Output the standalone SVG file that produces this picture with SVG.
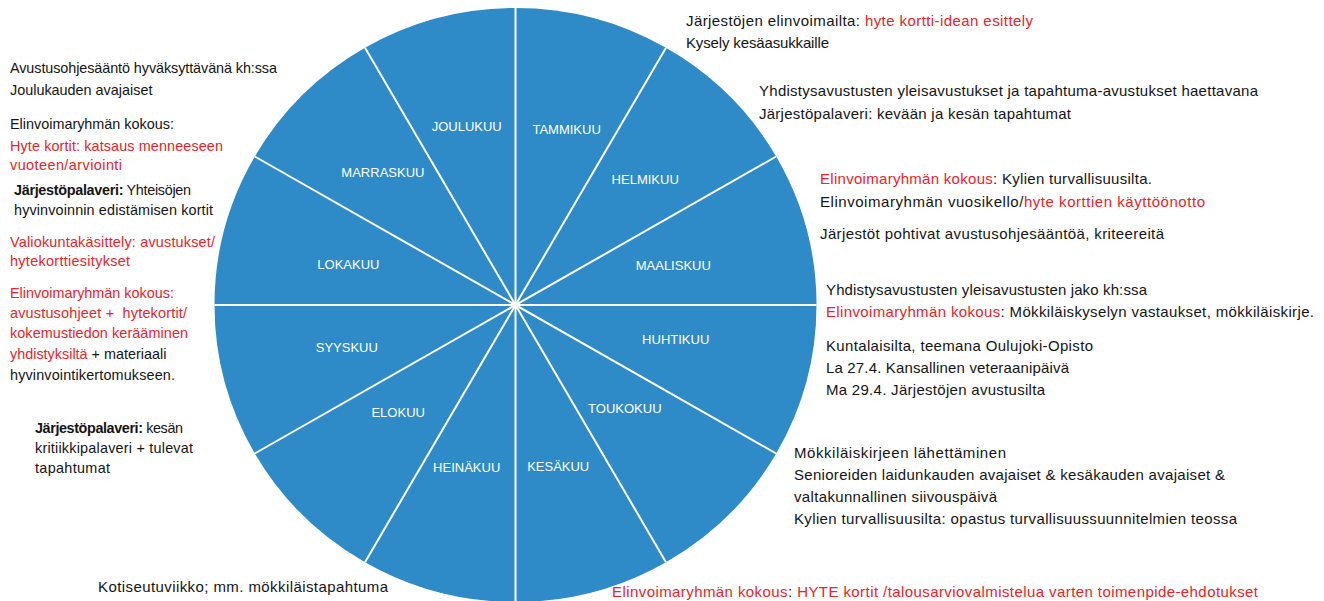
<svg xmlns="http://www.w3.org/2000/svg" width="1324" height="601" viewBox="0 0 1324 601">
<style>
.sec{fill:#2E8BC8;stroke:none}
.sp{stroke:#ffffff;stroke-width:2;fill:none}
.m{font-family:"Liberation Sans",Arial,sans-serif;font-size:13px;fill:#ffffff;text-anchor:middle}
.t{font-family:"Liberation Sans",Arial,sans-serif;font-size:14.4px;fill:#141414}
.w{font-size:15px}
.r{fill:#EC2227}
.k{fill:#141414}
.b{font-weight:bold}
</style>
<rect width="1324" height="601" fill="#ffffff"/>
<g id="wheel">
<g id="tammikuu"><path class="sec" d="M515.5 305 L515.5 8 A301 297 0 0 1 666 47.8 Z"/><text class="m" x="566.6" y="134">TAMMIKUU</text></g>
<g id="helmikuu"><path class="sec" d="M515.5 305 L666 47.8 A301 297 0 0 1 776.2 156.5 Z"/><text class="m" x="645.2" y="184">HELMIKUU</text></g>
<g id="maaliskuu"><path class="sec" d="M515.5 305 L776.2 156.5 A301 297 0 0 1 816.5 305 Z"/><text class="m" x="673.3" y="270">MAALISKUU</text></g>
<g id="huhtikuu"><path class="sec" d="M515.5 305 L816.5 305 A301 297 0 0 1 776.2 453.5 Z"/><text class="m" x="675.7" y="344">HUHTIKUU</text></g>
<g id="toukokuu"><path class="sec" d="M515.5 305 L776.2 453.5 A301 297 0 0 1 666 562.2 Z"/><text class="m" x="624.8" y="413">TOUKOKUU</text></g>
<g id="kesakuu"><path class="sec" d="M515.5 305 L666 562.2 A301 297 0 0 1 515.5 602 Z"/><text class="m" x="558.2" y="471">KESÄKUU</text></g>
<g id="heinakuu"><path class="sec" d="M515.5 305 L515.5 602 A301 297 0 0 1 365 562.2 Z"/><text class="m" x="466.7" y="472">HEINÄKUU</text></g>
<g id="elokuu"><path class="sec" d="M515.5 305 L365 562.2 A301 297 0 0 1 254.8 453.5 Z"/><text class="m" x="398.2" y="417">ELOKUU</text></g>
<g id="syyskuu"><path class="sec" d="M515.5 305 L254.8 453.5 A301 297 0 0 1 214.5 305 Z"/><text class="m" x="346.8" y="352">SYYSKUU</text></g>
<g id="lokakuu"><path class="sec" d="M515.5 305 L214.5 305 A301 297 0 0 1 254.8 156.5 Z"/><text class="m" x="348.4" y="269">LOKAKUU</text></g>
<g id="marraskuu"><path class="sec" d="M515.5 305 L254.8 156.5 A301 297 0 0 1 365 47.8 Z"/><text class="m" x="382.9" y="177">MARRASKUU</text></g>
<g id="joulukuu"><path class="sec" d="M515.5 305 L365 47.8 A301 297 0 0 1 515.5 8 Z"/><text class="m" x="466.7" y="131">JOULUKUU</text></g>
</g>
<g id="connectors">
<line class="sp" x1="515.5" y1="8" x2="515.5" y2="602"/>
<line class="sp" x1="666" y1="47.8" x2="365" y2="562.2"/>
<line class="sp" x1="776.2" y1="156.5" x2="254.8" y2="453.5"/>
<line class="sp" x1="816.5" y1="305" x2="214.5" y2="305"/>
<line class="sp" x1="776.2" y1="453.5" x2="254.8" y2="156.5"/>
<line class="sp" x1="666" y1="562.2" x2="365" y2="47.8"/>
</g>
<g id="notes-left">
<text class="t" x="10" y="73" textLength="267">Avustusohjesääntö hyväksyttävänä kh:ssa</text>
<text class="t" x="10" y="95">Joulukauden avajaiset</text>
<text class="t" x="10" y="129">Elinvoimaryhmän kokous:</text>
<text class="t r" x="10" y="151" textLength="213">Hyte kortit: katsaus menneeseen</text>
<text class="t r" x="10" y="170" textLength="112">vuoteen/arviointi</text>
<text class="t" x="14" y="195" textLength="177"><tspan class="b">Järjestöpalaveri:</tspan> Yhteisöjen</text>
<text class="t" x="14" y="215" textLength="199">hyvinvoinnin edistämisen kortit</text>
<text class="t r" x="10" y="247" textLength="205">Valiokuntakäsittely: avustukset/</text>
<text class="t r" x="10" y="266" textLength="120">hytekorttiesitykset</text>
<text class="t r" x="10" y="298">Elinvoimaryhmän kokous:</text>
<text class="t r" x="10" y="318" textLength="177" xml:space="preserve">avustusohjeet +  hytekortit/</text>
<text class="t r" x="10" y="338" textLength="178">kokemustiedon kerääminen</text>
<text class="t" x="10" y="359"><tspan class="r">yhdistyksiltä</tspan> + materiaali</text>
<text class="t" x="10" y="380" textLength="165">hyvinvointikertomukseen.</text>
<text class="t" x="35" y="433" textLength="148"><tspan class="b">Järjestöpalaveri:</tspan> kesän</text>
<text class="t" x="35" y="453" textLength="158">kritiikkipalaveri + tulevat</text>
<text class="t" x="35" y="473" textLength="75">tapahtumat</text>
<text class="t w" x="98" y="592" textLength="290">Kotiseutuviikko; mm. mökkiläistapahtuma</text>
</g>
<g id="notes-right">
<text class="t w" x="686" y="26" textLength="347">Järjestöjen elinvoimailta: <tspan class="r">hyte kortti-idean esittely</tspan></text>
<text class="t w" x="686" y="48" textLength="143">Kysely kesäasukkaille</text>
<text class="t w" x="759" y="96" textLength="499">Yhdistysavustusten yleisavustukset ja tapahtuma-avustukset haettavana</text>
<text class="t w" x="759" y="119" textLength="312">Järjestöpalaveri: kevään ja kesän tapahtumat</text>
<text class="t w" x="820" y="184" textLength="332"><tspan class="r">Elinvoimaryhmän kokous</tspan>: Kylien turvallisuusilta.</text>
<text class="t w" x="820" y="207" textLength="385">Elinvoimaryhmän vuosikello/<tspan class="r">hyte korttien käyttöönotto</tspan></text>
<text class="t w" x="820" y="239" textLength="344">Järjestöt pohtivat avustusohjesääntöä, kriteereitä</text>
<text class="t w" x="826" y="295" textLength="321">Yhdistysavustusten yleisavustusten jako kh:ssa</text>
<text class="t w" x="826" y="317" textLength="488"><tspan class="r">Elinvoimaryhmän kokous</tspan>: Mökkiläiskyselyn vastaukset, mökkiläiskirje.</text>
<text class="t w" x="826" y="351" textLength="267">Kuntalaisilta, teemana Oulujoki-Opisto</text>
<text class="t w" x="826" y="373" textLength="243">La 27.4. Kansallinen veteraanipäivä</text>
<text class="t w" x="826" y="395" textLength="219">Ma 29.4. Järjestöjen avustusilta</text>
<text class="t w" x="794" y="458" textLength="212">Mökkiläiskirjeen lähettäminen</text>
<text class="t w" x="794" y="480" textLength="431">Senioreiden laidunkauden avajaiset &amp; kesäkauden avajaiset &amp;</text>
<text class="t w" x="794" y="502" textLength="203">valtakunnallinen siivouspäivä</text>
<text class="t w" x="794" y="524" textLength="443">Kylien turvallisuusilta: opastus turvallisuussuunnitelmien teossa</text>
<text class="t w" x="612" y="597" textLength="646"><tspan class="r">Elinvoimaryhmän kokous</tspan>: <tspan class="r">HYTE kortit /talousarviovalmistelua varten toimenpide-ehdotukset</tspan></text>
</g>
</svg>
